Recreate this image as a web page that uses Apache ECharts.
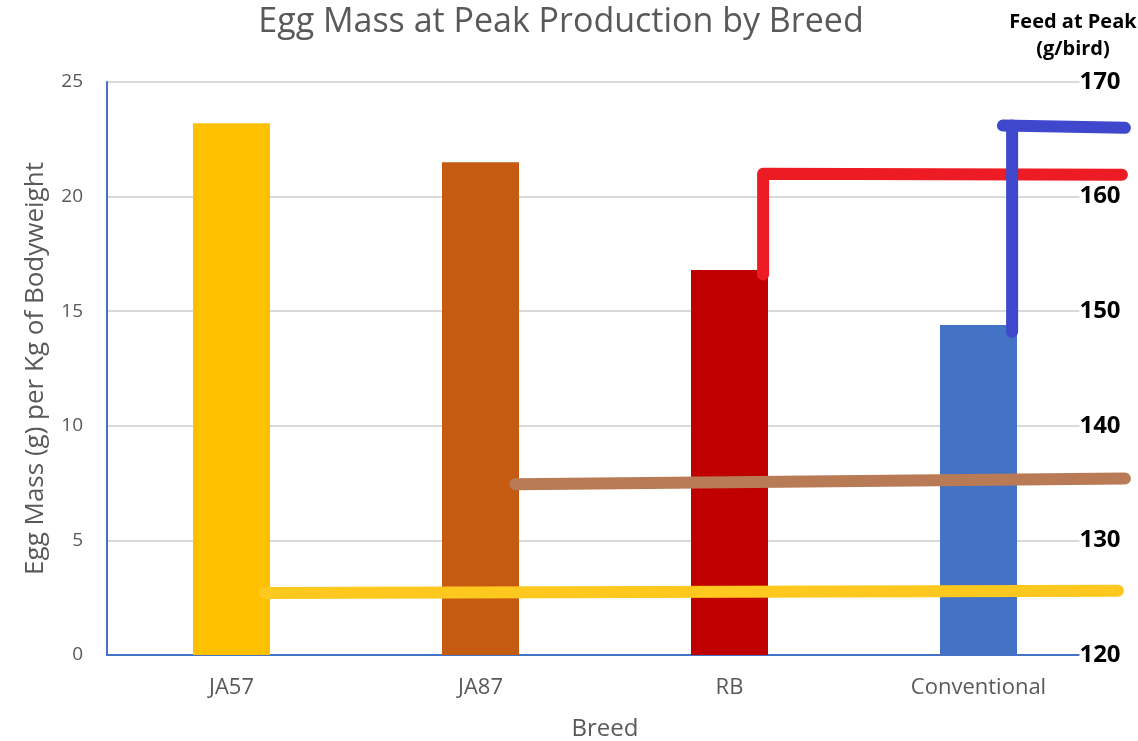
<!DOCTYPE html>
<html>
<head>
<meta charset="utf-8">
<script src="https://cdn.jsdelivr.net/npm/echarts@6/dist/echarts.min.js"></script>
<style>
  html, body { margin: 0; padding: 0; background: #fff; }
  #chart { width: 1138px; height: 741px; }
</style>
</head>
<body>
<div id="chart"></div>
<script>
// categories and bar values
const breeds = ['JA57', 'JA87', 'RB', 'Conventional'];
const eggMass = [23.2, 21.5, 16.8, 14.4];
const barColors = ['#FFC000', '#C55A11', '#C00000', '#4472C4'];

// hand-drawn feed lines: [category position, feed g/bird]
const feedJA57 = [[0.635, 125.4], [4.06, 125.6]];
const feedJA87 = [[1.64, 134.9], [4.088, 135.4]];
const feedRB = [[2.635, 153.2], [2.635, 162.0], [4.076, 161.9]];
const feedConvUp = [[3.635, 148.2], [3.635, 166.2]];
const feedConvTop = [[3.598, 166.2], [4.088, 166.0]];

const leftTicks = [0, 25, 5];
const rightTicks = [120, 170, 10];

const chart = echarts.init(document.getElementById('chart'));

const grey = '#595959';
const font = '"Open Sans", sans-serif';

// the overlay grid is wider than the bar grid so the strokes can run past it
const barLeft = 107, barRight = 1103, lineRight = 1134;
const catWidth = (barRight - barLeft) / breeds.length;

const feedLine = (name, data, color) => ({
  name: name,
  type: 'line',
  xAxisIndex: 1,
  yAxisIndex: 1,
  data: data,
  symbol: 'none',
  z: 5,
  lineStyle: { color: color, width: 12, cap: 'round', join: 'round' }
});

chart.setOption({
  animation: false,
  backgroundColor: '#fff',
  textStyle: { fontFamily: font },
  title: [
    {
      text: 'Egg Mass at Peak Production by Breed',
      left: 556,
      top: 0,
      textAlign: 'center',
      textStyle: { color: grey, fontSize: 34, fontWeight: 'normal', fontFamily: font }
    },
    {
      text: 'Feed at Peak\n(g/bird)',
      left: 1068,
      top: 4,
      textAlign: 'center',
      textStyle: { color: '#000', fontSize: 20, fontWeight: 'bold', lineHeight: 27, fontFamily: font }
    }
  ],
  grid: [
    { left: barLeft, right: 1138 - barRight, top: 82, bottom: 86, outerBoundsMode: 'none' },
    { left: barLeft, right: 1138 - lineRight, top: 82, bottom: 86, outerBoundsMode: 'none' }
  ],
  xAxis: [
    {
      type: 'category',
      gridIndex: 0,
      data: breeds,
      axisLine: { lineStyle: { color: '#4472C4', width: 2 } },
      axisTick: { show: false },
      axisLabel: { color: grey, fontSize: 22, margin: 22, fontFamily: font },
      name: 'Breed',
      nameLocation: 'middle',
      nameGap: 62,
      nameTextStyle: { color: grey, fontSize: 24, fontFamily: font }
    },
    {
      type: 'value',
      gridIndex: 1,
      min: 0,
      max: (lineRight - barLeft) / catWidth,
      show: false
    }
  ],
  yAxis: [
    {
      type: 'value',
      gridIndex: 0,
      min: leftTicks[0],
      max: leftTicks[1],
      interval: leftTicks[2],
      axisLine: { show: true, lineStyle: { color: '#4472C4', width: 2 } },
      axisTick: { show: false },
      axisLabel: { color: grey, fontSize: 19, margin: 24, fontFamily: font },
      splitLine: { lineStyle: { color: '#d9d9d9', width: 2 } },
      name: 'Egg Mass (g) per Kg of Bodyweight',
      nameLocation: 'middle',
      nameGap: 58,
      nameTextStyle: { color: grey, fontSize: 26, fontFamily: font }
    },
    {
      type: 'value',
      gridIndex: 1,
      position: 'right',
      min: rightTicks[0],
      max: rightTicks[1],
      interval: rightTicks[2],
      axisLine: { show: false },
      axisTick: { show: false },
      splitLine: { show: false },
      z: 1,
      axisLabel: {
        color: '#000',
        fontSize: 24,
        fontWeight: 'bold',
        fontFamily: font,
        margin: barRight - lineRight - 3,
        align: 'center',
        backgroundColor: '#fff',
        padding: [0, 0, 10, 0]
      }
    }
  ],
  series: [
    {
      type: 'bar',
      xAxisIndex: 0,
      yAxisIndex: 0,
      data: eggMass.map((v, i) => ({ value: v, itemStyle: { color: barColors[i] } })),
      barWidth: 77
    },
    feedLine('JA57', feedJA57, '#FFC81E'),
    feedLine('JA87', feedJA87, '#B97A56'),
    feedLine('RB', feedRB, '#ED1C24'),
    feedLine('Conventional', feedConvUp, '#3F48CC'),
    feedLine('Conventional', feedConvTop, '#3F48CC')
  ]
});

window.addEventListener('resize', () => chart.resize());
</script>
</body>
</html>
